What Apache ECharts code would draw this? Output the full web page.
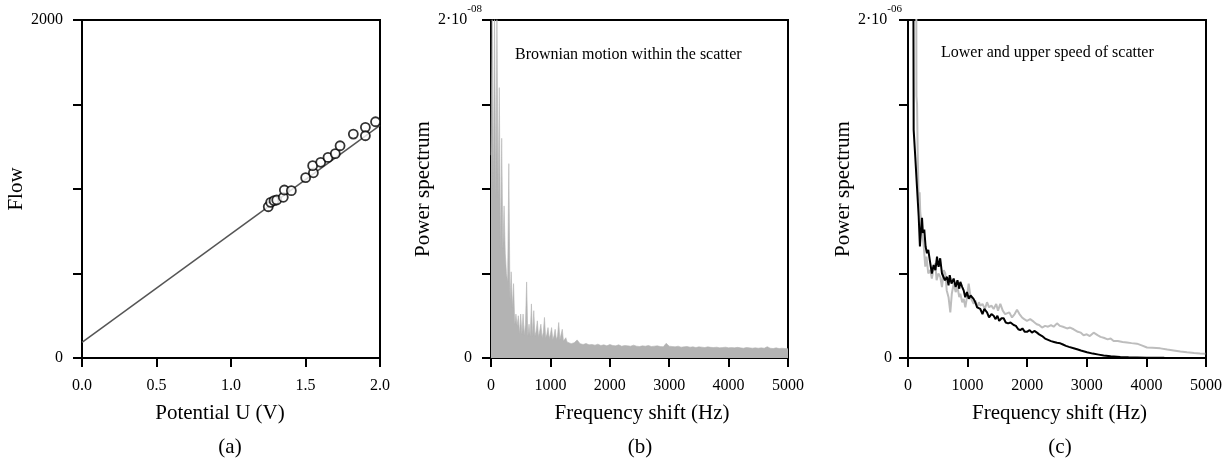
<!DOCTYPE html>
<html>
<head>
<meta charset="utf-8">
<script src="https://cdn.jsdelivr.net/npm/echarts@6/dist/echarts.min.js"></script>
<style>
  html, body { margin: 0; padding: 0; background: #fff; }
  #chart { width: 1228px; height: 461px; }
</style>
</head>
<body>
<div id="chart"></div>
<script>
// (a) measured flow vs potential, plus the fitted line
const flowU = [1.25, 1.266, 1.289, 1.307, 1.351, 1.358, 1.405, 1.501, 1.553, 1.548, 1.602, 1.651, 1.700, 1.732, 1.821, 1.902, 1.902, 1.97];
const flowVal = [895, 921, 931, 935, 951, 994, 990, 1067, 1096, 1138, 1158, 1187, 1209, 1256, 1325, 1365, 1315, 1398];
const fitU = [0, 2];
const fitFlow = [93, 1377];

// (b) power spectrum, values in units of 1e-9
const bLowStep = 20;   // Hz, from 0 to 1300
const bLowPow = [
  12, 20.5, 10, 20.5, 9.5, 20.5, 9.5, 16, 6.5, 13,        // 0..180
  6.5, 9, 6.2, 5.0, 4.5, 11.5, 3.4, 5.1, 3.0, 4.4,        // 200..380
  2.0, 2.6, 1.9, 2.5, 1.4, 2.6, 1.4, 2.6, 1.35, 2.0,      // 400..580
  4.5, 1.3, 2.0, 1.3, 3.2, 1.3, 2.8, 1.3, 1.6, 2.2,       // 600..780
  1.25, 1.6, 2.0, 1.2, 1.5, 2.4, 1.2, 1.4, 1.8, 1.15,     // 800..980
  1.4, 1.8, 1.1, 1.3, 1.7, 1.1, 1.3, 2.1, 1.1, 1.2,       // 1000..1180
  1.7, 1.0, 1.1, 1.2, 0.95, 1.0];                          // 1200..1300
const bHighStart = 1350;
const bHighStep = 50;  // Hz, from 1350 to 5000
const bHighPow = [0.85, 0.9, 1.07, 0.85, 0.8, 0.86, 0.78, 0.8, 0.76, 0.82, 0.74, 0.78, 0.72, 0.8, 0.74, 0.72, 0.78,
  0.7, 0.74, 0.72, 0.7, 0.76, 0.7, 0.68, 0.72, 0.7, 0.74, 0.68, 0.7, 0.72, 0.68, 0.66, 0.87, 0.7, 0.68,
  0.66, 0.7, 0.64, 0.66, 0.68, 0.64, 0.66, 0.62, 0.66, 0.64, 0.62, 0.66, 0.63, 0.62, 0.64, 0.6, 0.62,
  0.64, 0.6, 0.62, 0.6, 0.63, 0.6, 0.58, 0.62, 0.6, 0.58, 0.6, 0.58, 0.6, 0.58, 0.67, 0.58, 0.56, 0.6,
  0.56, 0.58, 0.56, 0.55];

// (c) power spectra, values in units of 1e-7
const cLowerHz = [80, 95, 122, 151, 179, 200, 210, 235, 250, 273, 295, 318, 340, 374, 400, 430, 460, 487, 500, 514,
  540, 570, 598, 620, 654, 680, 700, 730, 766, 800, 830, 860, 878, 910, 934, 960, 990, 1020, 1050, 1074,
  1100, 1129, 1160, 1190, 1213, 1250, 1280, 1326, 1360, 1400, 1437, 1470, 1500, 1530, 1570, 1605, 1640,
  1680, 1720, 1773, 1810, 1850, 1884, 1920, 1960, 1996, 2040, 2080, 2120, 2164, 2200, 2250, 2300, 2332,
  2400, 2450, 2500, 2555, 2600, 2650, 2700, 2779, 2850, 2900, 3003, 3100, 3200, 3283, 3400, 3562, 3700,
  3842, 4000, 4300, 4600, 5000];
const cLowerPow = [40, 13.5, 11.9, 10.1, 8.4, 6.6, 7.2, 8.3, 7.4, 7.6, 6.6, 6.2, 6.4, 5.6, 5.0, 5.5, 5.2, 6.0, 5.6, 5.4,
  5.9, 5.0, 5.1, 4.6, 4.8, 4.3, 4.9, 4.4, 4.7, 4.2, 4.6, 4.1, 4.5, 4.2, 4.0, 3.6, 3.9, 3.5, 3.7, 3.8,
  3.5, 3.3, 3.0, 3.1, 2.9, 2.6, 2.9, 2.7, 2.4, 2.6, 2.5, 2.3, 2.5, 2.2, 2.35, 2.35, 2.1,
  2.05, 2.1, 1.95, 1.9, 1.7, 1.65, 1.75, 1.55, 1.55, 1.65, 1.5, 1.6, 1.5, 1.4, 1.3, 1.15, 1.06,
  1.0, 0.95, 0.9, 0.87, 0.8, 0.72, 0.66, 0.58, 0.5, 0.44, 0.34, 0.26, 0.2, 0.15, 0.1, 0.06, 0.04,
  0.03, 0.02, 0.01, 0.005, 0];
const cUpperHz = [120, 142, 152, 162, 179, 195, 206, 220, 235, 260, 290, 310, 340, 374, 400, 430, 458, 480, 510, 542,
  570, 600, 626, 650, 680, 710, 735, 766, 800, 830, 860, 878, 910, 935, 962, 990, 1018, 1050, 1075, 1102,
  1130, 1160, 1190, 1213, 1250, 1290, 1326, 1360, 1400, 1437, 1480, 1510, 1549, 1590, 1630, 1661, 1700,
  1745, 1790, 1829, 1870, 1913, 1950, 1996, 2050, 2108, 2160, 2200, 2249, 2300, 2350, 2400, 2444, 2500,
  2550, 2600, 2668, 2720, 2779, 2850, 2900, 2947, 3000, 3050, 3115, 3180, 3230, 3283, 3350, 3400, 3450,
  3520, 3600, 3674, 3750, 3842, 3920, 4010, 4100, 4233, 4350, 4457, 4570, 4681, 4800, 4900, 4989];
const cUpperPow = [60, 15.5, 15.0, 12.3, 9.3, 9.8, 8.6, 8.2, 7.4, 6.8, 5.4, 6.0, 5.0, 5.2, 4.7, 5.3, 5.6, 4.6, 5.0, 4.8,
  4.2, 5.2, 5.0, 4.0, 3.6, 2.7, 3.8, 4.4, 3.9, 4.2, 3.6, 3.8, 3.3, 3.5, 3.0, 3.6, 4.4, 3.6, 3.4, 3.2,
  3.4, 3.0, 3.3, 3.1, 3.2, 2.9, 3.3, 3.0, 3.1, 2.9, 3.2, 2.8, 3.2, 2.8, 2.6, 2.5, 2.7,
  2.4, 2.6, 2.85, 2.6, 2.4, 2.3, 2.2, 2.3, 2.15, 2.0, 1.95, 1.8, 1.9, 1.85, 1.95, 1.85, 2.05,
  1.9, 1.85, 1.75, 1.8, 1.7, 1.55, 1.5, 1.35, 1.4, 1.3, 1.5, 1.35, 1.25, 1.2, 1.1, 1.15, 1.0,
  1.0, 0.95, 0.92, 0.88, 0.85, 0.75, 0.62, 0.6, 0.57, 0.5, 0.45, 0.38, 0.34, 0.3, 0.27, 0.25];

const serif = '"Liberation Serif", "DejaVu Serif", serif';

const bData = [];
bLowPow.forEach((v, i) => bData.push([i * bLowStep, v]));
bHighPow.forEach((v, i) => bData.push([bHighStart + i * bHighStep, v]));

const pairs = (xs, ys) => xs.map((x, i) => [x, ys[i]]);

const chart = echarts.init(document.getElementById('chart'));

const gridBase = { top: 20, height: 338, show: true, borderColor: '#000', borderWidth: 2, backgroundColor: 'transparent' };
const axisLine = { show: true, lineStyle: { color: '#000', width: 2 } };
const axisTick = { show: true, inside: false, length: 9, lineStyle: { color: '#000', width: 2 } };
const nameStyle = { fontFamily: serif, fontSize: 21, color: '#000' };
const labelBase = { fontFamily: serif, fontSize: 16, color: '#000' };

function freqAxis(idx) {
  return {
    type: 'value', gridIndex: idx, min: 0, max: 5000, interval: 1000,
    axisLine, axisTick, splitLine: { show: false },
    axisLabel: Object.assign({ margin: 20, formatter: v => String(v) }, labelBase),
    name: 'Frequency shift (Hz)', nameLocation: 'middle', nameGap: 45,
    nameTextStyle: Object.assign({ padding: [0, 0, 0, 5] }, nameStyle)
  };
}
function powerAxis(idx, exp, margin) {
  return {
    type: 'value', gridIndex: idx, min: 0, max: 20, interval: 5,
    axisLine, axisTick, splitLine: { show: false },
    axisLabel: {
      margin: margin,
      formatter: v => v === 0 ? '{z|0}' : (v === 20 ? '{m|2·10}{s|' + exp + '}' : ''),
      rich: {
        z: { fontFamily: serif, fontSize: 16, color: '#000', padding: [0, 10, 0, 0] },
        m: { fontFamily: serif, fontSize: 16, color: '#000', lineHeight: 32, verticalAlign: 'middle' },
        s: { fontFamily: serif, fontSize: 11, color: '#000', lineHeight: 12, verticalAlign: 'top' }
      }
    },
    name: 'Power spectrum', nameLocation: 'middle', nameGap: 48, nameTextStyle: nameStyle
  };
}

const capFont = '21px ' + serif;
const noteFont = '16px ' + serif;

chart.setOption({
  animation: false,
  grid: [
    Object.assign({ left: 82, width: 298 }, gridBase),
    Object.assign({ left: 491, width: 297 }, gridBase),
    Object.assign({ left: 908, width: 298 }, gridBase)
  ],
  xAxis: [
    {
      type: 'value', gridIndex: 0, min: 0, max: 2, interval: 0.5,
      axisLine, axisTick, splitLine: { show: false },
      axisLabel: Object.assign({ margin: 20, formatter: v => v.toFixed(1) }, labelBase),
      name: 'Potential U (V)', nameLocation: 'middle', nameGap: 45,
      nameTextStyle: Object.assign({ padding: [0, 22, 0, 0] }, nameStyle)
    },
    freqAxis(1),
    freqAxis(2)
  ],
  yAxis: [
    {
      type: 'value', gridIndex: 0, min: 0, max: 2000, interval: 500,
      axisLine, axisTick, splitLine: { show: false },
      axisLabel: Object.assign({ margin: 19, formatter: v => (v === 0 || v === 2000) ? String(v) : '' }, labelBase),
      name: 'Flow', nameLocation: 'middle', nameGap: 49, nameTextStyle: nameStyle
    },
    powerAxis(1, '-08', 9),
    powerAxis(2, '-06', 6)
  ],
  graphic: [
    { type: 'text', x: 230, y: 447, style: { text: '(a)', align: 'center', verticalAlign: 'middle', font: capFont, fill: '#000' } },
    { type: 'text', x: 640, y: 447, style: { text: '(b)', align: 'center', verticalAlign: 'middle', font: capFont, fill: '#000' } },
    { type: 'text', x: 1060, y: 447, style: { text: '(c)', align: 'center', verticalAlign: 'middle', font: capFont, fill: '#000' } },
    { type: 'text', x: 515, y: 55, style: { text: 'Brownian motion within the scatter', align: 'left', verticalAlign: 'middle', font: noteFont, fill: '#000' } },
    { type: 'text', x: 941, y: 53, style: { text: 'Lower and upper speed of scatter', align: 'left', verticalAlign: 'middle', font: noteFont, fill: '#000' } }
  ],
  series: [
    {
      type: 'line', xAxisIndex: 0, yAxisIndex: 0, data: pairs(fitU, fitFlow),
      showSymbol: false, lineStyle: { color: '#555', width: 1.5 }, z: 2
    },
    {
      type: 'scatter', xAxisIndex: 0, yAxisIndex: 0, data: pairs(flowU, flowVal),
      symbol: 'circle', symbolSize: 9,
      itemStyle: { color: '#fff', borderColor: '#000', borderWidth: 1.8 }, z: 3
    },
    {
      type: 'line', xAxisIndex: 1, yAxisIndex: 1, data: bData,
      showSymbol: false, lineStyle: { color: '#b3b3b3', width: 0.6 },
      areaStyle: { color: '#b3b3b3', opacity: 1 }
    },
    {
      type: 'line', xAxisIndex: 2, yAxisIndex: 2, data: pairs(cUpperHz, cUpperPow),
      showSymbol: false, lineStyle: { color: '#bdbdbd', width: 2 }
    },
    {
      type: 'line', xAxisIndex: 2, yAxisIndex: 2, data: pairs(cLowerHz, cLowerPow),
      showSymbol: false, lineStyle: { color: '#000', width: 2 }
    }
  ]
});
</script>
</body>
</html>
